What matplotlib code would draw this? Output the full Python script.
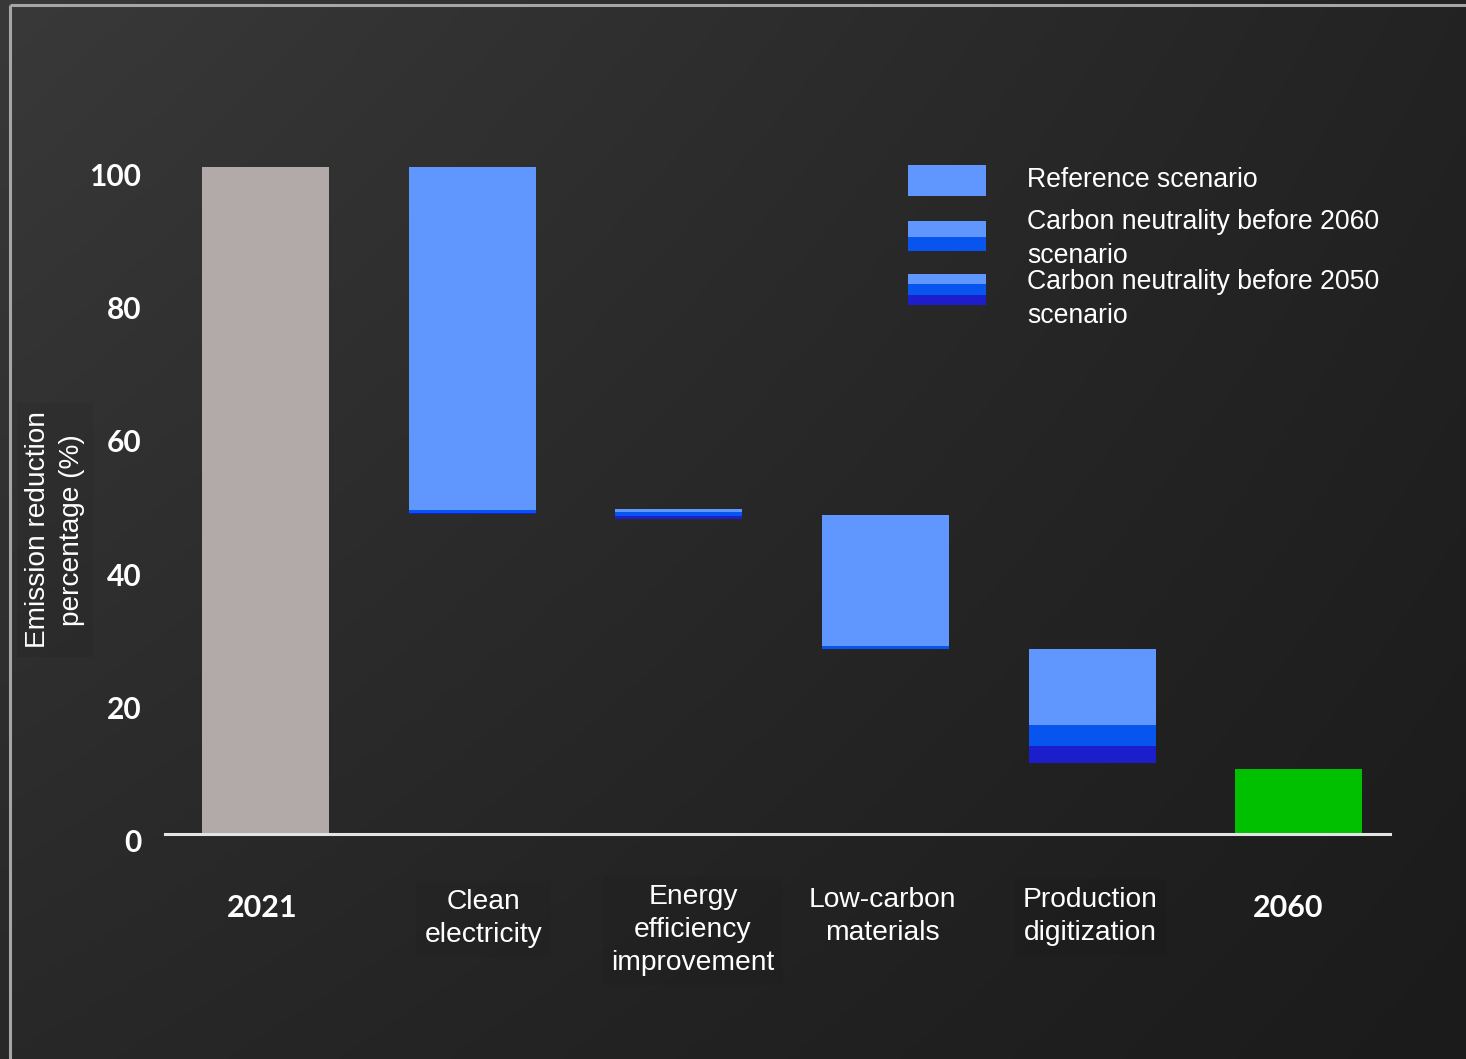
import numpy as np
import matplotlib
matplotlib.use("Agg")
import matplotlib.pyplot as plt
from matplotlib.patches import Rectangle
from matplotlib.transforms import ScaledTranslation, blended_transform_factory

# ---- data -------------------------------------------------------------
categories = ["2021", "Clean\nelectricity", "Energy\nefficiency\nimprovement",
              "Low-carbon\nmaterials", "Production\ndigitization", "2060"]
start_value = 100.0      # 2021 emissions (indexed)
end_value = 9.8          # 2060 remaining emissions

# reduction steps (Clean electricity ... Production digitization)
step_top = [100.0, 48.7, 47.8, 27.8]
ref_bottom = [48.6, 48.3, 28.2, 16.3]      # Reference scenario
s2060_bottom = [48.2, 47.7, 27.8, 13.2]    # Carbon neutrality before 2060
s2050_bottom = [47.95, 47.3, 27.7, 10.6]   # Carbon neutrality before 2050

y_ticks = [0, 20, 40, 60, 80, 100]
legend_labels = ["Reference scenario",
                 "Carbon neutrality before 2060\nscenario",
                 "Carbon neutrality before 2050\nscenario"]

# ---- style ------------------------------------------------------------
W, H = 1466, 1059
C_GRAY = "#b2aaa8"
C_REF = "#5f97ff"
C_2060 = "#0755ee"
C_2050 = "#1c1dcb"
C_GREEN = "#00c000"
NUM_FONT = ["Lato", "DejaVu Sans"]
TXT_FONT = ["Liberation Sans", "DejaVu Sans"]
SHADE_BOX = dict(facecolor="black", alpha=0.05, edgecolor="none", pad=6)

fig = plt.figure(figsize=(W / 100, H / 100), dpi=100)

# background panel in pixel coordinates
bg = fig.add_axes([0, 0, 1, 1], zorder=0)
bg.set_xlim(0, W)
bg.set_ylim(H, 0)
bg.axis("off")
u = np.linspace(0, 1, 200)[None, :]
v = np.linspace(0, 1, 150)[:, None]
tl, tr, bl, br = 57, 35, 40, 27
shade = tl * (1 - u) * (1 - v) + tr * u * (1 - v) + bl * (1 - u) * v + br * u * v
img = np.repeat((shade / 255.0)[:, :, None], 3, axis=2)
bg.imshow(img, extent=(0, W, H, 0), aspect="auto", interpolation="bilinear")
# frame lines
bg.plot([10, 10], [5, H], color="#a6a6a6", lw=2.2, solid_capstyle="butt")
bg.plot([10, W], [5, 5], color="#a6a6a6", lw=2.2, solid_capstyle="butt")

# ---- main axes ---------------------------------------------------------
ax = fig.add_axes([165 / W, (H - 834) / H, (1390 - 165) / W, 700 / H], zorder=1)
ax.patch.set_alpha(0)
x = np.arange(len(categories))
bw = 0.615

ax.bar(x[0], start_value, width=bw, color=C_GRAY)
xs = x[1:5]
top = np.array(step_top)
rb = np.array(ref_bottom)
b60 = np.array(s2060_bottom)
b50 = np.array(s2050_bottom)
ax.bar(xs, top - rb, bottom=rb, width=bw, color=C_REF)
ax.bar(xs, rb - b60, bottom=b60, width=bw, color=C_2060)
ax.bar(xs, b60 - b50, bottom=b50, width=bw, color=C_2050)
ax.bar(x[5], end_value, width=bw, color=C_GREEN)

ax.set_xlim(-0.489, 5.443)
ax.set_ylim(0, 105)
for s in ["top", "right", "left"]:
    ax.spines[s].set_visible(False)
ax.spines["bottom"].set_color("#e4e4e4")
ax.spines["bottom"].set_linewidth(2.2)
ax.set_xticks([])
ax.set_yticks(y_ticks)
ax.tick_params(axis="y", length=0, pad=17, labelcolor="white")
off = ScaledTranslation(0, -0.07, fig.dpi_scale_trans)
for lab in ax.get_yticklabels():
    lab.set_fontfamily(NUM_FONT)
    lab.set_fontweight("bold")
    lab.set_fontsize(21.5)
    lab.set_transform(lab.get_transform() + off)

# category labels below the axis
trans = blended_transform_factory(ax.transData, fig.transFigure)
nudge_px = [-4, 11, 14, -3, -2, -10]
top_px = [None, 889, 884, 887, 887, None]
boxed = {1, 2, 4}
for i, name in enumerate(categories):
    t = trans + ScaledTranslation(nudge_px[i] / 100, 0, fig.dpi_scale_trans)
    if i in (0, len(categories) - 1):
        ax.text(x[i], 1 - 908 / H, name, transform=t, ha="center", va="center",
                color="white", fontsize=22, fontweight="bold", family=NUM_FONT)
    else:
        ax.text(x[i], 1 - top_px[i] / H, name, transform=t, ha="center", va="top",
                color="white", fontsize=20.3, family=TXT_FONT, linespacing=1.36,
                bbox=SHADE_BOX if i in boxed else None)

# y-axis title
fig.text(55 / W, 1 - 530 / H, "Emission reduction\npercentage (%)", rotation=90,
         ha="center", va="center", color="white", fontsize=20.2, family=TXT_FONT,
         linespacing=1.36, bbox=SHADE_BOX)

# ---- legend (drawn in pixel space) -------------------------------------
px0, pw = 908, 78
rows = [
    (165, 31, [(C_REF, 1.0)]),
    (221, 30, [(C_REF, 0.53), (C_2060, 0.47)]),
    (274, 31, [(C_REF, 0.33), (C_2060, 0.35), (C_2050, 0.32)]),
]
text_y = [180, 239, 299]
for (y0, h, parts), ty, lab in zip(rows, text_y, legend_labels):
    yy = y0
    for col, frac in parts:
        bg.add_patch(Rectangle((px0, yy), pw, h * frac, facecolor=col, edgecolor="none"))
        yy += h * frac
    bg.text(1027, ty, lab, ha="left", va="center", color="white", fontsize=19.2,
            family=TXT_FONT, linespacing=1.36)

fig.savefig("out.png", dpi=100)
